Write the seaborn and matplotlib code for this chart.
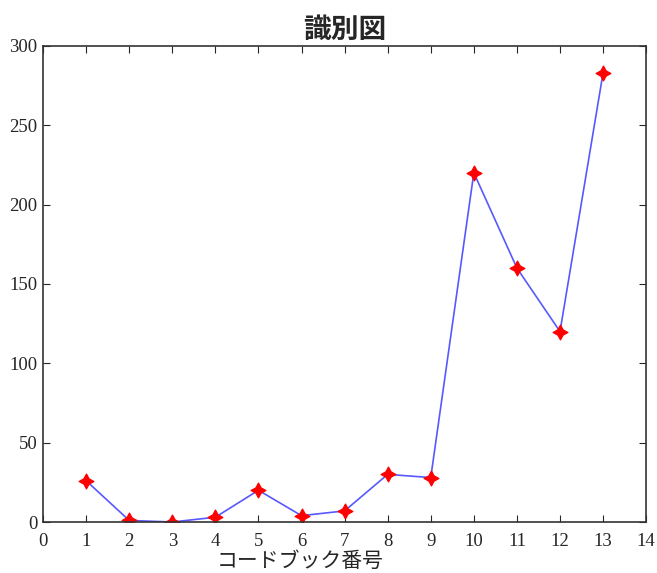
# -*- coding: utf-8 -*-

import matplotlib
matplotlib.use("Agg")
import matplotlib.pyplot as plt
import numpy as np
import pandas as pd
import seaborn as sns

# Data
codebook = [1, 2, 3, 4, 5, 6, 7, 8, 9, 10, 11, 12, 13]
score = [26, 1, 0, 3, 20, 4, 7, 30, 28, 220, 160, 120, 283]
x_ticks = list(range(0, 15))
y_ticks = [0, 50, 100, 150, 200, 250, 300]

df = pd.DataFrame({"codebook": codebook, "score": score})

# Style
sns.set_style("ticks")
plt.rcParams['font.family'] = ['Noto Sans CJK JP', 'DejaVu Sans']

fig = plt.figure(figsize=(6.57, 5.73), dpi=100)
ax = fig.add_axes([0.0655, 0.089, 0.918, 0.831])

sns.lineplot(data=df, x="codebook", y="score", ax=ax, color="#5858ff",
	linewidth=1.2, marker=(4, 1, 0), markersize=11,
	markerfacecolor="red", markeredgecolor="red")

ax.set_xlim(0, 14)
ax.set_ylim(0, 300)
ax.set_xticks(x_ticks)
ax.set_yticks(y_ticks)
ax.set_xticklabels([str(t) for t in x_ticks], family="Liberation Serif", fontsize=13.5)
ax.set_yticklabels([str(t) for t in y_ticks], family="Liberation Serif", fontsize=13.5)
ax.tick_params(axis="x", direction="in", length=5, top=True, pad=8)
ax.tick_params(axis="y", direction="in", length=5, right=True, pad=4)
for s in ax.spines.values():
	s.set_visible(True)
	s.set_linewidth(1.2)
	s.set_color("#333333")

ax.set_title("識別図", fontsize=20, fontweight="bold", pad=6)
ax.set_xlabel("コードブック番号", fontsize=15, labelpad=0)
ax.xaxis.set_label_coords(0.427, -0.058)
ax.set_ylabel("")

plt.savefig("out.png", dpi=100)
plt.close('all')
